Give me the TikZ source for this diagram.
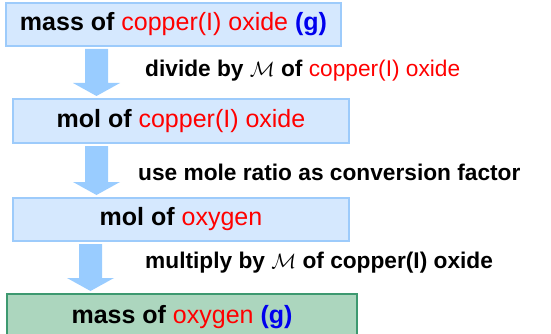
\documentclass[tikz,border=0pt]{standalone}
\usepackage{fontspec}
\setmainfont{Liberation Sans}
\usetikzlibrary{calc}

\definecolor{boxfill}{HTML}{D5E8FE}
\definecolor{boxline}{HTML}{9DCBFB}
\definecolor{arrowblue}{HTML}{99CCFF}
\definecolor{greenfill}{HTML}{ACD6BE}
\definecolor{greenline}{HTML}{3D9970}
\definecolor{textred}{HTML}{FF0000}
\definecolor{textblue}{HTML}{0000EE}

\newcommand{\redpart}[1]{{\mdseries\color{textred}#1}}
\newcommand{\bluepart}[1]{{\color{textblue}#1}}

\tikzset{
    stepbox/.style={draw=boxline, line width=2pt, fill=boxfill, inner sep=0pt,
        minimum height=43pt, font=\fontsize{25}{30}\selectfont\bfseries},
    lastbox/.style={stepbox, draw=greenline, fill=greenfill},
    note/.style={anchor=west, inner sep=0pt, font=\fontsize{22.7}{27}\selectfont\bfseries},
    blockarrow/.style={fill=arrowblue}
}

\begin{document}
\begin{tikzpicture}[x=1pt,y=1pt]
    \useasboundingbox (0,0) rectangle (551,-334);

    \node[stepbox, minimum width=335pt] (massCu) at (173.5,-24.5) {mass of \redpart{copper(I) oxide} \bluepart{(g)}};
    \node[stepbox, minimum width=336pt, minimum height=44pt] (molCu) at (181,-121) {mol of \redpart{copper(I) oxide}};
    \node[stepbox, minimum width=336pt] (molO) at (181,-219.5) {mol of \redpart{oxygen}};
    \node[lastbox, minimum width=350pt, minimum height=46pt] (massO) at (182,-317) {mass of \redpart{oxygen} \bluepart{(g)}};

    \foreach \from/\to/\cx in {massCu/molCu/96.5, molCu/molO/96.5, molO/massO/90.5} {
        \fill[blockarrow] let \p1=(\from.south), \p2=(\to.north) in
            ({\cx pt-11.5pt},{\y1-2pt}) -- ({\cx pt+11.5pt},{\y1-2pt})
            -- ({\cx pt+11.5pt},{\y2+15pt}) -- ({\cx pt+23.5pt},{\y2+15pt})
            -- ({\cx pt},{\y2+2pt})
            -- ({\cx pt-23.5pt},{\y2+15pt}) -- ({\cx pt-11.5pt},{\y2+15pt}) -- cycle;
    }

    \node[note] (divide) at (145,-71) {divide by $\mathcal{M}$ of \redpart{copper(I) oxide}};
    \node[note] (ratio) at (138,-172) {use mole ratio as conversion factor};
    \node[note] (multiply) at (145,-263) {multiply by $\mathcal{M}$ of copper(I) oxide};
\end{tikzpicture}
\end{document}
